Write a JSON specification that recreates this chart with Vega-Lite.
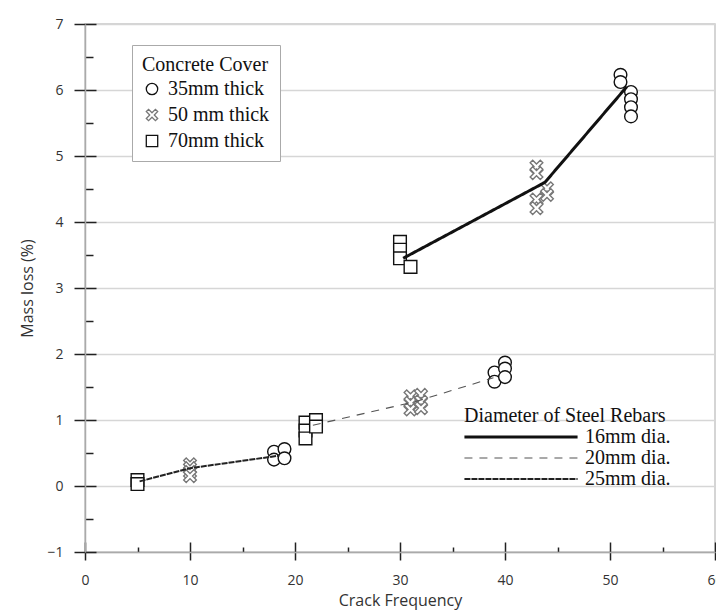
{
  "$schema": "https://vega.github.io/schema/vega-lite/v6.json",
  "width": 630,
  "height": 528,
  "autosize": {"type": "none"},
  "padding": {"left": 85, "top": 24, "right": 1, "bottom": 60},
  "background": "white",
  "config": {
    "view": {"stroke": "#c8c8c8", "strokeWidth": 1.5},
    "axis": {
      "labelFont": "Open Sans", "labelFontSize": 14, "labelColor": "#333",
      "titleFont": "Open Sans", "titleFontSize": 16, "titleFontWeight": "normal", "titleColor": "#333",
      "domainColor": "#aaa", "domainWidth": 1.5, "tickColor": "#222", "tickWidth": 1.5, "grid": false,
      "labelOverlap": false, "labelBound": false, "labelFlush": false
    }
  },
  "datasets": {
    "pts": [
      {"cover": "35mm thick", "freq": 18, "loss": 0.52},
      {"cover": "35mm thick", "freq": 18, "loss": 0.40},
      {"cover": "35mm thick", "freq": 19, "loss": 0.56},
      {"cover": "35mm thick", "freq": 19, "loss": 0.42},
      {"cover": "35mm thick", "freq": 39, "loss": 1.72},
      {"cover": "35mm thick", "freq": 39, "loss": 1.58},
      {"cover": "35mm thick", "freq": 40, "loss": 1.87},
      {"cover": "35mm thick", "freq": 40, "loss": 1.78},
      {"cover": "35mm thick", "freq": 40, "loss": 1.65},
      {"cover": "35mm thick", "freq": 51, "loss": 6.23},
      {"cover": "35mm thick", "freq": 51, "loss": 6.12},
      {"cover": "35mm thick", "freq": 52, "loss": 5.97},
      {"cover": "35mm thick", "freq": 52, "loss": 5.86},
      {"cover": "35mm thick", "freq": 52, "loss": 5.74},
      {"cover": "35mm thick", "freq": 52, "loss": 5.60},
      {"cover": "50 mm thick", "freq": 10, "loss": 0.33},
      {"cover": "50 mm thick", "freq": 10, "loss": 0.27},
      {"cover": "50 mm thick", "freq": 10, "loss": 0.21},
      {"cover": "50 mm thick", "freq": 10, "loss": 0.15},
      {"cover": "50 mm thick", "freq": 31, "loss": 1.36},
      {"cover": "50 mm thick", "freq": 31, "loss": 1.26},
      {"cover": "50 mm thick", "freq": 31, "loss": 1.16},
      {"cover": "50 mm thick", "freq": 32, "loss": 1.38},
      {"cover": "50 mm thick", "freq": 32, "loss": 1.28},
      {"cover": "50 mm thick", "freq": 32, "loss": 1.18},
      {"cover": "50 mm thick", "freq": 43, "loss": 4.84},
      {"cover": "50 mm thick", "freq": 43, "loss": 4.74},
      {"cover": "50 mm thick", "freq": 43, "loss": 4.34},
      {"cover": "50 mm thick", "freq": 43, "loss": 4.21},
      {"cover": "50 mm thick", "freq": 44, "loss": 4.51},
      {"cover": "50 mm thick", "freq": 44, "loss": 4.41},
      {"cover": "70mm thick", "freq": 5, "loss": 0.09},
      {"cover": "70mm thick", "freq": 5, "loss": 0.03},
      {"cover": "70mm thick", "freq": 21, "loss": 0.96},
      {"cover": "70mm thick", "freq": 21, "loss": 0.84},
      {"cover": "70mm thick", "freq": 21, "loss": 0.72},
      {"cover": "70mm thick", "freq": 22, "loss": 1.00},
      {"cover": "70mm thick", "freq": 22, "loss": 0.90},
      {"cover": "70mm thick", "freq": 30, "loss": 3.70},
      {"cover": "70mm thick", "freq": 30, "loss": 3.58},
      {"cover": "70mm thick", "freq": 30, "loss": 3.45},
      {"cover": "70mm thick", "freq": 31, "loss": 3.32}
    ],
    "lines": [
      {"dia": "16mm dia.", "freq": 30.3, "loss": 3.45},
      {"dia": "16mm dia.", "freq": 43.8, "loss": 4.6},
      {"dia": "16mm dia.", "freq": 51.6, "loss": 6.05},
      {"dia": "20mm dia.", "freq": 21.7, "loss": 0.92},
      {"dia": "20mm dia.", "freq": 31.5, "loss": 1.28},
      {"dia": "20mm dia.", "freq": 38.9, "loss": 1.64},
      {"dia": "25mm dia.", "freq": 5.2, "loss": 0.07},
      {"dia": "25mm dia.", "freq": 10, "loss": 0.27},
      {"dia": "25mm dia.", "freq": 18.5, "loss": 0.46}
    ]
  },
  "resolve": {"axis": {"x": "independent", "y": "independent"}},
  "layer": [
    {
      "data": {"name": "pts"},
      "mark": {"type": "point", "opacity": 0},
      "encoding": {
        "x": {"field": "freq", "type": "quantitative", "scale": {"domain": [0, 60], "nice": false, "zero": false},
          "axis": {"orient": "bottom", "values": [0, 10, 20, 30, 40, 50, 60], "tickSize": -10, "labels": false, "domain": false, "title": null}},
        "y": {"field": "loss", "type": "quantitative", "scale": {"domain": [-1, 7], "nice": false, "zero": false},
          "axis": {"orient": "left", "values": [-1, 0, 1, 2, 3, 4, 5, 6, 7], "tickSize": -11, "labels": false, "domain": false, "title": null}}
      }
    },
    {
      "data": {"name": "pts"},
      "mark": {"type": "point", "opacity": 0},
      "encoding": {
        "x": {"field": "freq", "type": "quantitative", "scale": {"domain": [0, 60], "nice": false, "zero": false},
          "axis": {"orient": "bottom", "values": [5, 15, 25, 35, 45, 55], "tickSize": -5, "labels": false, "domain": false, "title": null}},
        "y": {"field": "loss", "type": "quantitative", "scale": {"domain": [-1, 7], "nice": false, "zero": false},
          "axis": {"orient": "left", "values": [-0.5, 0.5, 1.5, 2.5, 3.5, 4.5, 5.5, 6.5], "tickSize": -8, "labels": false, "domain": false, "title": null}}
      }
    },
    {
      "data": {"name": "pts"},
      "mark": {"type": "point", "filled": false, "fill": "white", "fillOpacity": 1, "opacity": 1, "strokeWidth": 1.4, "size": 160},
      "encoding": {
        "x": {"field": "freq", "type": "quantitative", "scale": {"domain": [0, 60], "nice": false, "zero": false}, "axis": null},
        "y": {"field": "loss", "type": "quantitative", "scale": {"domain": [-1, 7], "nice": false, "zero": false}, "axis": null},
        "shape": {"field": "cover", "type": "nominal",
          "scale": {"domain": ["35mm thick", "50 mm thick", "70mm thick"],
            "range": ["circle", "M0,-0.4L0.6,-1L1,-0.6L0.4,0L1,0.6L0.6,1L0,0.4L-0.6,1L-1,0.6L-0.4,0L-1,-0.6L-0.6,-1Z", "square"]},
          "legend": {"orient": "none", "legendX": 47, "legendY": 21, "title": "Concrete Cover", "padding": 10,
            "strokeColor": "#aaa", "fillColor": "white", "symbolFillColor": "white", "symbolSize": 130, "symbolStrokeWidth": 1.3,
            "rowPadding": 6, "titlePadding": 4, "labelOffset": 6,
            "titleFont": "Liberation Serif", "titleFontSize": 20, "titleFontWeight": "normal", "titleColor": "#111",
            "labelFont": "Liberation Serif", "labelFontSize": 20, "labelColor": "#111"}},
        "stroke": {"field": "cover", "type": "nominal",
          "scale": {"domain": ["35mm thick", "50 mm thick", "70mm thick"], "range": ["#111", "#777", "#111"]},
          "legend": {"orient": "none", "legendX": 47, "legendY": 21, "title": "Concrete Cover", "padding": 10,
            "strokeColor": "#aaa", "fillColor": "white", "symbolFillColor": "white", "symbolSize": 130, "symbolStrokeWidth": 1.3,
            "rowPadding": 6, "titlePadding": 4, "labelOffset": 6,
            "titleFont": "Liberation Serif", "titleFontSize": 20, "titleFontWeight": "normal", "titleColor": "#111",
            "labelFont": "Liberation Serif", "labelFontSize": 20, "labelColor": "#111"}}
      }
    },
    {
      "data": {"name": "lines"},
      "mark": {"type": "line"},
      "encoding": {
        "x": {"field": "freq", "type": "quantitative", "scale": {"domain": [0, 60], "nice": false, "zero": false},
          "axis": {"orient": "bottom", "values": [0, 10, 20, 30, 40, 50, 60], "tickSize": 8, "labelPadding": 13, "title": "Crack Frequency", "titlePadding": 5}},
        "y": {"field": "loss", "type": "quantitative", "scale": {"domain": [-1, 7], "nice": false, "zero": false},
          "axis": {"orient": "left", "values": [-1, 0, 1, 2, 3, 4, 5, 6, 7], "tickSize": 11, "labelPadding": 11, "title": "Mass loss (%)", "titlePadding": 11,
            "grid": true, "gridColor": "#d6d6d6", "gridWidth": 1.5}},
        "color": {"field": "dia", "type": "nominal",
          "scale": {"domain": ["16mm dia.", "20mm dia.", "25mm dia."], "range": ["#111", "#555", "#222"]},
          "legend": {"orient": "none", "legendX": 379, "legendY": 382, "title": "Diameter of Steel Rebars", "titleLimit": 400,
            "symbolType": "M-10,0H10", "symbolSize": 128, "symbolOffset": 47, "labelOffset": 54,
            "rowPadding": 1, "titlePadding": 1,
            "titleFont": "Liberation Serif", "titleFontSize": 20, "titleFontWeight": "normal", "titleColor": "#111",
            "labelFont": "Liberation Serif", "labelFontSize": 20, "labelColor": "#111"}},
        "strokeDash": {"field": "dia", "type": "nominal",
          "scale": {"domain": ["16mm dia.", "20mm dia.", "25mm dia."], "range": [[1, 0], [8, 7], [6, 1]]},
          "legend": {"orient": "none", "legendX": 379, "legendY": 382, "title": "Diameter of Steel Rebars", "titleLimit": 400,
            "symbolType": "M-10,0H10", "symbolSize": 128, "symbolOffset": 47, "labelOffset": 54,
            "rowPadding": 1, "titlePadding": 1,
            "titleFont": "Liberation Serif", "titleFontSize": 20, "titleFontWeight": "normal", "titleColor": "#111",
            "labelFont": "Liberation Serif", "labelFontSize": 20, "labelColor": "#111"}},
        "strokeWidth": {"field": "dia", "type": "nominal",
          "scale": {"type": "ordinal", "domain": ["16mm dia.", "20mm dia.", "25mm dia."], "range": [3, 1.1, 2]},
          "legend": {"orient": "none", "legendX": 379, "legendY": 382, "title": "Diameter of Steel Rebars", "titleLimit": 400,
            "symbolType": "M-10,0H10", "symbolSize": 128, "symbolOffset": 47, "labelOffset": 54,
            "rowPadding": 1, "titlePadding": 1,
            "titleFont": "Liberation Serif", "titleFontSize": 20, "titleFontWeight": "normal", "titleColor": "#111",
            "labelFont": "Liberation Serif", "labelFontSize": 20, "labelColor": "#111"}}
      }
    }
  ]
}
